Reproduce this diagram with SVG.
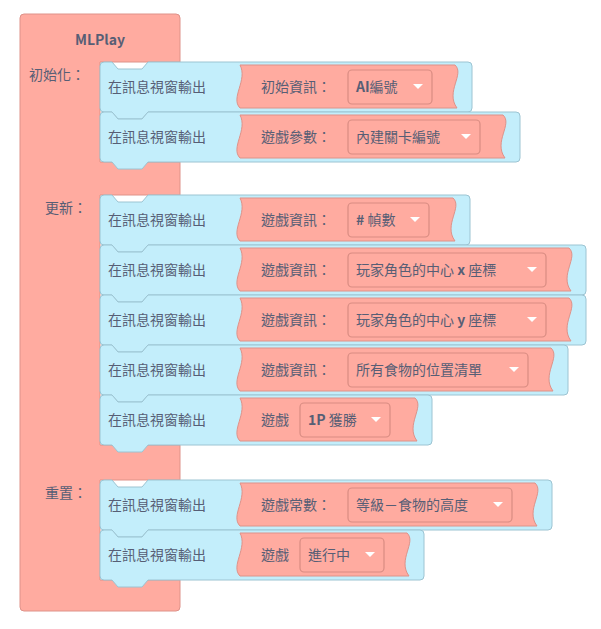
<svg xmlns="http://www.w3.org/2000/svg" width="601" height="629" viewBox="0 0 601 629">
<style>
.o{fill:#ffaba0;stroke:#de9289;stroke-width:1}
.b{fill:#c3eefb;stroke:#9cc4d2;stroke-width:1}
.v{fill:#ffaba0;stroke:#de9289;stroke-width:1}
.d{fill:#ffaba0;stroke:#d98c82;stroke-width:1.2}
.t{font-family:"Noto Sans CJK TC","Noto Sans",sans-serif;font-size:14px;fill:#575e75}
.bd{font-weight:bold}
.tri{fill:#fff}
</style>
<g id="mlplay">
<path class="o" d="M20,18 a4,4 0 0 1 4,-4 H176 a4,4 0 0 1 4,4 V62 H100 V162 H180 V195 H100 V445 H180 V480 H100 V580 H180 V607 a4,4 0 0 1 -4,4 H24 a4,4 0 0 1 -4,-4 Z"/>
<text class="t bd" x="100" y="45" text-anchor="middle">MLPlay</text>
<text class="t" x="29" y="80">初始化：</text>
<text class="t" x="45" y="213">更新：</text>
<text class="t" x="45" y="498">重置：</text>
</g>
<defs>
<path id="tri" d="M-5,-2 h10 l-5,5 z"/>
</defs>
<g id="row1" transform="translate(0,62)">
<path class="b" d="M100,4 a4,4 0 0 1 4,-4 H112 l6,7 h24 l6,-7 H468 a4,4 0 0 1 4,4 V46 a4,4 0 0 1 -4,4 H148 l-6,7 h-24 l-6,-7 H104 a4,4 0 0 1 -4,-4 Z"/>
<text class="t" x="108" y="30">在訊息視窗輸出</text>
<path class="v" d="M240,3 H455 C465,12 445,30 457,46 H240 C230,36 248,18 240,3 Z"/>
<text class="t" x="261" y="30">初始資訊：</text>
<rect class="d" x="348" y="8" width="84" height="34" rx="4"/>
<text class="t bd" x="356" y="30">AI<tspan font-weight="normal">編號</tspan></text>
<use href="#tri" x="418" y="24" class="tri"/>
</g>
<g id="row2" transform="translate(0,112)">
<path class="b" d="M100,4 a4,4 0 0 1 4,-4 H112 l6,7 h24 l6,-7 H516 a4,4 0 0 1 4,4 V46 a4,4 0 0 1 -4,4 H148 l-6,7 h-24 l-6,-7 H104 a4,4 0 0 1 -4,-4 Z"/>
<text class="t" x="108" y="30">在訊息視窗輸出</text>
<path class="v" d="M240,3 H503 C513,12 493,30 505,46 H240 C230,36 248,18 240,3 Z"/>
<text class="t" x="261" y="30">遊戲參數：</text>
<rect class="d" x="348" y="8" width="132" height="34" rx="4"/>
<text class="t" x="356" y="30">內建關卡編號</text>
<use href="#tri" x="466" y="24" class="tri"/>
</g>
<g id="row3" transform="translate(0,195)">
<path class="b" d="M100,4 a4,4 0 0 1 4,-4 H112 l6,7 h24 l6,-7 H466 a4,4 0 0 1 4,4 V46 a4,4 0 0 1 -4,4 H148 l-6,7 h-24 l-6,-7 H104 a4,4 0 0 1 -4,-4 Z"/>
<text class="t" x="108" y="30">在訊息視窗輸出</text>
<path class="v" d="M240,3 H453 C463,12 443,30 455,46 H240 C230,36 248,18 240,3 Z"/>
<text class="t" x="261" y="30">遊戲資訊：</text>
<rect class="d" x="348" y="8" width="81" height="34" rx="4"/>
<text class="t" x="356" y="30"><tspan class="bd">#</tspan> 幀數</text>
<use href="#tri" x="415" y="24" class="tri"/>
</g>
<g id="row4" transform="translate(0,245)">
<path class="b" d="M100,4 a4,4 0 0 1 4,-4 H112 l6,7 h24 l6,-7 H582 a4,4 0 0 1 4,4 V46 a4,4 0 0 1 -4,4 H148 l-6,7 h-24 l-6,-7 H104 a4,4 0 0 1 -4,-4 Z"/>
<text class="t" x="108" y="30">在訊息視窗輸出</text>
<path class="v" d="M240,3 H569 C579,12 559,30 571,46 H240 C230,36 248,18 240,3 Z"/>
<text class="t" x="261" y="30">遊戲資訊：</text>
<rect class="d" x="348" y="8" width="198" height="34" rx="4"/>
<text class="t" x="356" y="30">玩家角色的中心 <tspan class="bd">x</tspan> 座標</text>
<use href="#tri" x="532" y="24" class="tri"/>
</g>
<g id="row5" transform="translate(0,295)">
<path class="b" d="M100,4 a4,4 0 0 1 4,-4 H112 l6,7 h24 l6,-7 H582 a4,4 0 0 1 4,4 V46 a4,4 0 0 1 -4,4 H148 l-6,7 h-24 l-6,-7 H104 a4,4 0 0 1 -4,-4 Z"/>
<text class="t" x="108" y="30">在訊息視窗輸出</text>
<path class="v" d="M240,3 H569 C579,12 559,30 571,46 H240 C230,36 248,18 240,3 Z"/>
<text class="t" x="261" y="30">遊戲資訊：</text>
<rect class="d" x="348" y="8" width="198" height="34" rx="4"/>
<text class="t" x="356" y="30">玩家角色的中心 <tspan class="bd">y</tspan> 座標</text>
<use href="#tri" x="532" y="24" class="tri"/>
</g>
<g id="row6" transform="translate(0,345)">
<path class="b" d="M100,4 a4,4 0 0 1 4,-4 H112 l6,7 h24 l6,-7 H564 a4,4 0 0 1 4,4 V46 a4,4 0 0 1 -4,4 H148 l-6,7 h-24 l-6,-7 H104 a4,4 0 0 1 -4,-4 Z"/>
<text class="t" x="108" y="30">在訊息視窗輸出</text>
<path class="v" d="M240,3 H551 C561,12 541,30 553,46 H240 C230,36 248,18 240,3 Z"/>
<text class="t" x="261" y="30">遊戲資訊：</text>
<rect class="d" x="348" y="8" width="180" height="34" rx="4"/>
<text class="t" x="356" y="30">所有食物的位置清單</text>
<use href="#tri" x="514" y="24" class="tri"/>
</g>
<g id="row7" transform="translate(0,395)">
<path class="b" d="M100,4 a4,4 0 0 1 4,-4 H112 l6,7 h24 l6,-7 H428 a4,4 0 0 1 4,4 V46 a4,4 0 0 1 -4,4 H148 l-6,7 h-24 l-6,-7 H104 a4,4 0 0 1 -4,-4 Z"/>
<text class="t" x="108" y="30">在訊息視窗輸出</text>
<path class="v" d="M240,3 H415 C425,12 405,30 417,46 H240 C230,36 248,18 240,3 Z"/>
<text class="t" x="261" y="30">遊戲</text>
<rect class="d" x="300" y="8" width="90" height="34" rx="4"/>
<text class="t" x="308" y="30"><tspan class="bd">1P</tspan> 獲勝</text>
<use href="#tri" x="376" y="24" class="tri"/>
</g>
<g id="row8" transform="translate(0,480)">
<path class="b" d="M100,4 a4,4 0 0 1 4,-4 H112 l6,7 h24 l6,-7 H548 a4,4 0 0 1 4,4 V46 a4,4 0 0 1 -4,4 H148 l-6,7 h-24 l-6,-7 H104 a4,4 0 0 1 -4,-4 Z"/>
<text class="t" x="108" y="30">在訊息視窗輸出</text>
<path class="v" d="M240,3 H535 C545,12 525,30 537,46 H240 C230,36 248,18 240,3 Z"/>
<text class="t" x="261" y="30">遊戲常數：</text>
<rect class="d" x="348" y="8" width="164" height="34" rx="4"/>
<text class="t" x="356" y="30">等級－食物的高度</text>
<use href="#tri" x="498" y="24" class="tri"/>
</g>
<g id="row9" transform="translate(0,530)">
<path class="b" d="M100,4 a4,4 0 0 1 4,-4 H112 l6,7 h24 l6,-7 H420 a4,4 0 0 1 4,4 V46 a4,4 0 0 1 -4,4 H148 l-6,7 h-24 l-6,-7 H104 a4,4 0 0 1 -4,-4 Z"/>
<text class="t" x="108" y="30">在訊息視窗輸出</text>
<path class="v" d="M240,3 H407 C417,12 397,30 409,46 H240 C230,36 248,18 240,3 Z"/>
<text class="t" x="261" y="30">遊戲</text>
<rect class="d" x="300" y="8" width="84" height="34" rx="4"/>
<text class="t" x="308" y="30">進行中</text>
<use href="#tri" x="370" y="24" class="tri"/>
</g>
<g id="connectors"/>
</svg>
